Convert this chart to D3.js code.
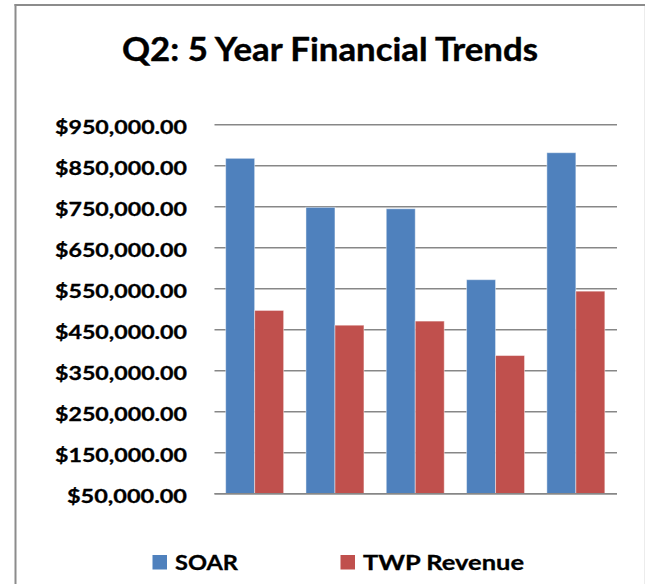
<!DOCTYPE html>
<html>
<head>
<meta charset="utf-8">
<script src="https://cdn.jsdelivr.net/npm/d3@7"></script>
<style>
  body { margin: 0; background: #fff; }
  svg { display: block; }
  text { font-family: Lato, "Open Sans", sans-serif; font-weight: bold; fill: #000; }
</style>
</head>
<body>
<div id="chart"></div>
<script>
// chart data
const years = ['1', '2', '3', '4', '5'];
const seriesNames = ['SOAR', 'TWP Revenue'];
const soarValues = [868000, 748500, 745000, 572000, 881700];
const twpValues = [497000, 461000, 471000, 387000, 544000];
const yTickValues = [50000, 150000, 250000, 350000, 450000, 550000, 650000, 750000, 850000, 950000];
const colors = ['#4F81BD', '#C0504D'];

const width = 651;
const height = 584;

const svg = d3.select('#chart')
    .append('svg')
    .attr('width', width)
    .attr('height', height);

// outer frame
svg.append('line')
    .attr('x1', 15.5).attr('y1', 4).attr('x2', 15.5).attr('y2', height)
    .attr('stroke', '#8c8c8c').attr('stroke-width', 2);
svg.append('line')
    .attr('x1', 14.5).attr('y1', 5).attr('x2', 645).attr('y2', 5)
    .attr('stroke', '#8c8c8c').attr('stroke-width', 2);
svg.append('line')
    .attr('x1', 644.5).attr('y1', 6).attr('x2', 644.5).attr('y2', height)
    .attr('stroke', '#ececec').attr('stroke-width', 1);

// title
svg.append('text')
    .attr('x', 330)
    .attr('y', 61)
    .attr('text-anchor', 'middle')
    .attr('font-size', '32px')
    .attr('stroke', '#000')
    .attr('stroke-width', 0.4)
    .attr('textLength', 416)
    .attr('lengthAdjust', 'spacingAndGlyphs')
    .text('Q2: 5 Year Financial Trends');

// scales
const x = d3.scaleBand()
    .domain(years)
    .range([214.5, 616])
    .paddingInner(0.278)
    .paddingOuter(0.139);

const xInner = d3.scaleBand()
    .domain(seriesNames)
    .range([0, x.bandwidth()]);

const y = d3.scaleLinear()
    .domain([50000, 950000])
    .range([493.7, 124.7]);

const fmt = v => '$' + d3.format(',.2f')(v);

// gridlines
svg.append('g')
    .selectAll('line')
    .data(yTickValues)
    .join('line')
    .attr('x1', 214.5)
    .attr('x2', 617)
    .attr('y1', d => y(d))
    .attr('y2', d => y(d))
    .attr('stroke', '#878787')
    .attr('stroke-width', 1.6);

// y labels
svg.append('g')
    .selectAll('text')
    .data(yTickValues)
    .join('text')
    .attr('x', 187)
    .attr('y', d => y(d) + 9.3)
    .attr('text-anchor', 'end')
    .attr('font-size', '19.5px')
    .attr('stroke', '#000')
    .attr('stroke-width', 0.3)
    .attr('textLength', d => d >= 100000 ? 132 : 120)
    .attr('lengthAdjust', 'spacingAndGlyphs')
    .text(d => fmt(d));

// bars
const rows = years.map((yr, i) => ({ year: yr, values: [soarValues[i], twpValues[i]] }));

const groups = svg.append('g')
    .selectAll('g')
    .data(rows)
    .join('g')
    .attr('transform', d => `translate(${x(d.year)},0)`);

groups.selectAll('rect')
    .data(d => d.values.map((v, k) => ({ name: seriesNames[k], value: v, k })))
    .join('rect')
    .attr('x', d => xInner(d.name))
    .attr('width', xInner.bandwidth())
    .attr('y', d => y(d.value))
    .attr('height', d => y(50000) - y(d.value))
    .attr('fill', d => colors[d.k])
    .attr('stroke', 'rgba(255,255,255,0.45)')
    .attr('stroke-width', 1);

// baseline over the bars
svg.append('line')
    .attr('x1', 214.5).attr('x2', 617)
    .attr('y1', y(50000)).attr('y2', y(50000))
    .attr('stroke', '#878787')
    .attr('stroke-width', 1.6);

// legend
const legendItems = [
    { name: seriesNames[0], color: colors[0], x: 152.5, w: 63 },
    { name: seriesNames[1], color: colors[1], x: 340.5, w: 161 }
];

const legend = svg.append('g');
legendItems.forEach(item => {
    legend.append('rect')
        .attr('x', item.x)
        .attr('y', 555)
        .attr('width', 14.5)
        .attr('height', 14.5)
        .attr('fill', item.color);
    legend.append('text')
        .attr('x', item.x + 22.5)
        .attr('y', 569.5)
        .attr('font-size', '20px')
        .attr('stroke', '#000')
        .attr('stroke-width', 0.3)
        .attr('textLength', item.w)
        .attr('lengthAdjust', 'spacingAndGlyphs')
        .text(item.name);
});
</script>
</body>
</html>
